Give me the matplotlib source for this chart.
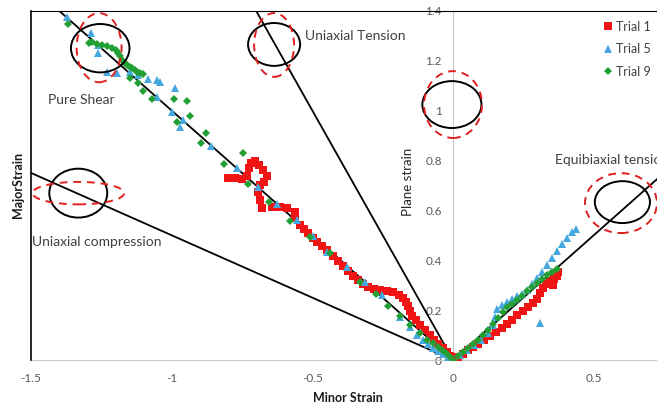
import matplotlib.pyplot as plt
from matplotlib.patches import Ellipse

plt.rcParams['font.family'] = ['Lato', 'DejaVu Sans']
plt.rcParams['axes.unicode_minus'] = False

# Trial 1 (red squares)
t1_minor = [-0.799, -0.774, -0.750, -0.732, -0.725, -0.718, -0.703, -0.689, -0.675, -0.661,
            -0.671, -0.686, -0.693, -0.686, -0.679, -0.643, -0.615, -0.590, -0.561, -0.561,
            -0.544, -0.529, -0.515, -0.497, -0.483, -0.465, -0.448, -0.426, -0.409, -0.391,
            -0.373, -0.355, -0.337, -0.320, -0.302, -0.281, -0.259, -0.234, -0.213, -0.192,
            -0.178, -0.167, -0.160, -0.153, -0.146, -0.131, -0.117, -0.099, -0.082, -0.067,
            -0.053, -0.036, -0.021, -0.011, 0.0,
            0.018, 0.036, 0.053, 0.071, 0.089, 0.110, 0.131, 0.153, 0.174, 0.192,
            0.210, 0.227, 0.249, 0.266, 0.284, 0.298, 0.309, 0.320, 0.330, 0.345,
            0.359, 0.369, 0.373, 0.355]
t1_major = [0.729, 0.729, 0.725, 0.737, 0.770, 0.790, 0.798, 0.782, 0.762, 0.737,
            0.713, 0.701, 0.673, 0.641, 0.609, 0.613, 0.613, 0.609, 0.593, 0.569,
            0.541, 0.525, 0.509, 0.489, 0.473, 0.457, 0.441, 0.417, 0.397, 0.377,
            0.357, 0.337, 0.321, 0.305, 0.293, 0.285, 0.281, 0.277, 0.273, 0.261,
            0.248, 0.232, 0.216, 0.196, 0.176, 0.160, 0.140, 0.120, 0.100, 0.080,
            0.064, 0.048, 0.032, 0.016, 0.0,
            0.012, 0.024, 0.040, 0.052, 0.064, 0.080, 0.096, 0.112, 0.128, 0.144,
            0.160, 0.180, 0.196, 0.212, 0.228, 0.244, 0.269, 0.289, 0.305, 0.317,
            0.325, 0.337, 0.353, 0.301]

# Trial 5 (blue triangles)
t5_minor = [-1.371, -1.286, -1.261, -1.261, -1.229, -1.194, -1.147, -1.119, -1.083, -1.052,
            -1.041, -0.988, -1.052, -0.998, -0.959, -0.970, -0.860, -0.767, -0.693, -0.625,
            -0.554, -0.497, -0.448, -0.377, -0.313, -0.252, -0.188, -0.153, -0.128, -0.107,
            -0.089, -0.071, -0.053, -0.036, -0.018, 0.0,
            0.025, 0.050, 0.075, 0.099, 0.124, 0.142, 0.149, 0.156, 0.174, 0.192,
            0.210, 0.227, 0.245, 0.263, 0.281, 0.298, 0.316, 0.334, 0.352, 0.369,
            0.387, 0.405, 0.423, 0.437, 0.309]
t5_major = [1.375, 1.311, 1.263, 1.230, 1.154, 1.150, 1.154, 1.142, 1.126, 1.122,
            1.114, 1.090, 1.054, 0.994, 0.962, 0.934, 0.858, 0.770, 0.693, 0.625,
            0.561, 0.497, 0.433, 0.373, 0.313, 0.261, 0.172, 0.132, 0.100, 0.080,
            0.064, 0.048, 0.036, 0.024, 0.012, 0.0,
            0.020, 0.040, 0.060, 0.080, 0.108, 0.140, 0.172, 0.204, 0.220, 0.232,
            0.244, 0.257, 0.265, 0.281, 0.305, 0.329, 0.353, 0.381, 0.409, 0.437,
            0.465, 0.489, 0.513, 0.525, 0.148]

# Trial 9 (green diamonds)
t9_minor = [-1.368, -1.293, -1.282, -1.265, -1.247, -1.229, -1.211, -1.197, -1.190, -1.183,
            -1.176, -1.165, -1.158, -1.147, -1.140, -1.130, -1.123, -1.112, -1.101, -1.147,
            -1.119, -1.101, -1.069, -0.991, -0.945, -0.934, -0.980, -0.877, -0.895, -0.813,
            -0.746, -0.728, -0.654, -0.579, -0.508, -0.437, -0.330, -0.274, -0.231, -0.188,
            -0.153, -0.117, -0.092, -0.071, -0.053, -0.039, -0.025, -0.011, 0.0,
            0.018, 0.036, 0.053, 0.071, 0.089, 0.107, 0.124, 0.142, 0.160, 0.178,
            0.192, 0.210, 0.227, 0.245, 0.263, 0.281, 0.298, 0.316, 0.334, 0.352, 0.369]
t9_major = [1.347, 1.271, 1.275, 1.267, 1.263, 1.259, 1.251, 1.242, 1.230, 1.218,
            1.202, 1.190, 1.182, 1.174, 1.170, 1.162, 1.154, 1.150, 1.146, 1.130,
            1.110, 1.078, 1.046, 1.046, 1.038, 0.978, 0.954, 0.910, 0.870, 0.786,
            0.830, 0.705, 0.633, 0.557, 0.493, 0.429, 0.313, 0.265, 0.216, 0.176,
            0.140, 0.108, 0.080, 0.068, 0.052, 0.040, 0.028, 0.012, 0.0,
            0.016, 0.032, 0.048, 0.064, 0.080, 0.100, 0.120, 0.144, 0.168, 0.192,
            0.212, 0.224, 0.240, 0.257, 0.277, 0.293, 0.309, 0.325, 0.341, 0.353, 0.365]

# reference strain paths through the origin (major / minor)
path_slopes = [-0.5, -1.0, -2.0, 1.0]

x_ticks = [-1.5, -1.0, -0.5, 0.0, 0.5]
x_tick_labels = ['-1.5', '-1', '-0.5', '0', '0.5']
y_ticks = [0, 0.2, 0.4, 0.6, 0.8, 1.0, 1.2, 1.4]
y_tick_labels = ['0', '0.2', '0.4', '0.6', '0.8', '1', '1.2', '1.4']

# highlight rings: (centre x, centre y, width, height)
black_rings = [(-1.254, 1.250, 0.208, 0.194), (-0.636, 1.265, 0.185, 0.172),
               (-0.004, 1.024, 0.210, 0.188), (-1.332, 0.669, 0.206, 0.196),
               (0.602, 0.633, 0.196, 0.168)]
red_rings = [(-1.258, 1.252, 0.160, 0.277), (-0.636, 1.263, 0.142, 0.256),
             (0.000, 1.024, 0.206, 0.268), (-1.332, 0.669, 0.326, 0.090),
             (0.597, 0.629, 0.256, 0.240)]

labels = [('Pure Shear', -1.438, 1.042), ('Uniaxial Tension', -0.526, 1.299),
          ('Uniaxial compression', -1.497, 0.473), ('Equibiaxial tension', 0.362, 0.800)]

fig = plt.figure(figsize=(6.57, 4.08), dpi=100)
ax = fig.add_axes([0.0472, 0.1176, 0.9635, 0.856])
ax.set_xlim(-1.5, 0.75)
ax.set_ylim(0, 1.4)

for s in path_slopes:
    ax.axline((0, 0), slope=s, color='black', linewidth=1.3, zorder=2)

ax.plot(t1_minor, t1_major, 's', color='#F01414', markersize=6, markeredgewidth=0, label='Trial 1', zorder=3)
ax.plot(t5_minor, t5_major, '^', color='#45A8E0', markersize=6, markeredgewidth=0, label='Trial 5', zorder=3)
ax.plot(t9_minor, t9_major, 'D', color='#22A034', markersize=4.5, markeredgewidth=0, label='Trial 9', zorder=4)

for cx, cy, w, h in black_rings:
    ax.add_patch(Ellipse((cx, cy), w, h, fill=False, edgecolor='black', linewidth=1.4,
                         clip_on=False, zorder=5))
for cx, cy, w, h in red_rings:
    ax.add_patch(Ellipse((cx, cy), w, h, fill=False, edgecolor='#E0201E', linewidth=1.4,
                         linestyle=(0, (4, 3)), clip_on=False, zorder=5))

for txt, lx, ly in labels:
    ax.text(lx, ly, txt, fontsize=10, color='#404040', ha='left', va='center', clip_on=False)

ax.text(-0.16, 0.713, 'Plane strain', rotation=90, fontsize=9.5, color='#262626',
        ha='center', va='center')

# spines: y axis crosses at zero, black frame left/top
ax.spines['left'].set_position(('data', 0))
ax.spines['left'].set_color('#C8C8C8')
ax.spines['bottom'].set_color('#C8C8C8')
ax.spines['top'].set_color('black')
ax.spines['right'].set_visible(False)
ax.axvline(-1.5, color='black', linewidth=1.2, clip_on=False, zorder=6)

ax.set_xticks(x_ticks)
ax.set_xticklabels(x_tick_labels)
ax.set_yticks(y_ticks)
ax.set_yticklabels(y_tick_labels)
ax.tick_params(length=0, labelsize=8.5, labelcolor='#595959')
ax.tick_params(axis='x', pad=9)
ax.tick_params(axis='y', pad=8)

ax.set_xlabel('Minor Strain', fontsize=9, fontweight='bold', color='#1A1A1A')
ax.xaxis.set_label_coords(0.5, -0.092)
ax.set_ylabel('MajorStrain', fontsize=9, fontweight='bold', color='#1A1A1A')
ax.yaxis.set_label_coords(-0.011, 0.5)

leg = fig.legend(loc='upper left', bbox_to_anchor=(0.912, 0.962), frameon=False,
                 fontsize=9, handlelength=0.6, handletextpad=0.35, labelspacing=0.85,
                 borderaxespad=0)
for t in leg.get_texts():
    t.set_color('#404040')

fig.savefig('out.png', dpi=100)
